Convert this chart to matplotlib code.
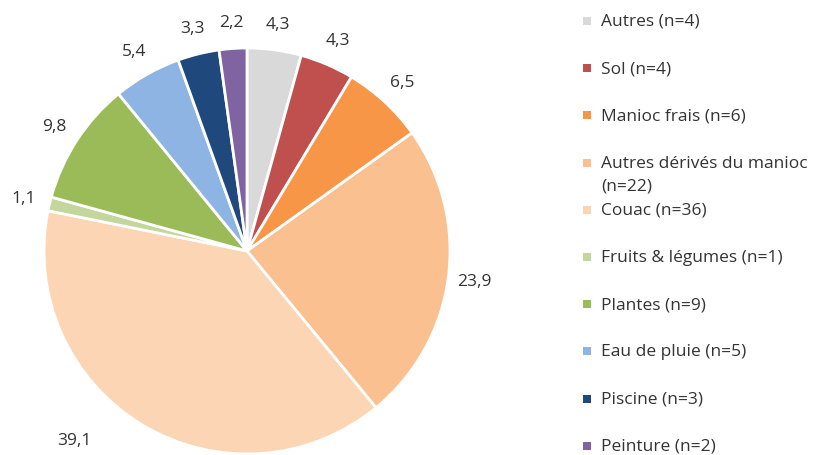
import matplotlib.pyplot as plt
from matplotlib.patches import Rectangle

plt.rcParams['font.family'] = ['Open Sans', 'DejaVu Sans']

# categories, counts and percentages as shown on the chart
categories = ["Autres", "Sol", "Manioc frais", "Autres dérivés du manioc", "Couac",
              "Fruits & légumes", "Plantes", "Eau de pluie", "Piscine", "Peinture"]
counts = [4, 4, 6, 22, 36, 1, 9, 5, 3, 2]
percents = [4.3, 4.3, 6.5, 23.9, 39.1, 1.1, 9.8, 5.4, 3.3, 2.2]
colors = ["#D9D9D9", "#C0504D", "#F79646", "#FAC090", "#FCD5B5",
          "#C3D69B", "#9BBB59", "#8EB4E3", "#1F497D", "#8064A2"]

W, H = 829, 456
fig = plt.figure(figsize=(W / 100, H / 100), dpi=100)

# pie axes: centre (247, 252) px, radius 203 px
cx, cy, r = 247, 252, 203
k = 1.25
ax = fig.add_axes([(cx - r * k) / W, (H - cy - r * k) / H, 2 * r * k / W, 2 * r * k / H])
ax.set_xlim(-k, k)
ax.set_ylim(-k, k)
ax.axis('off')

txt_col = '#333333'
fs = 12.5
labels = [f"{p:.1f}".replace('.', ',') for p in percents]
wedges, texts = ax.pie(percents, colors=colors, startangle=90, counterclock=False,
                       labels=labels, labeldistance=1.13,
                       wedgeprops=dict(edgecolor='white', linewidth=2),
                       textprops=dict(fontsize=fs, color=txt_col))
for t in texts:
    t.set_ha('center')
    t.set_va('center')
    t.set_clip_on(False)
# Couac label sits lower-left of its slice
texts[4].set_position((-0.85, -0.93))

# legend drawn in pixel coordinates
lax = fig.add_axes([0, 0, 1, 1])
lax.set_xlim(0, W)
lax.set_ylim(H, 0)
lax.axis('off')
y0, step = 22, 47.2
for i, (cat, n, col) in enumerate(zip(categories, counts, colors)):
    y = y0 + i * step
    lax.add_patch(Rectangle((583, y - 4), 8, 8, facecolor=col, edgecolor='none'))
    if cat == "Autres dérivés du manioc":
        # wrapped entry: first line on its slot, second line spills below
        lax.text(601, y, cat, fontsize=fs, color=txt_col, va='center', ha='left')
        lax.text(601, y + 23, f"(n={n})", fontsize=fs, color=txt_col, va='center', ha='left')
    else:
        lax.text(601, y, f"{cat} (n={n})", fontsize=fs, color=txt_col, va='center', ha='left')

fig.savefig('out.png', dpi=100)
